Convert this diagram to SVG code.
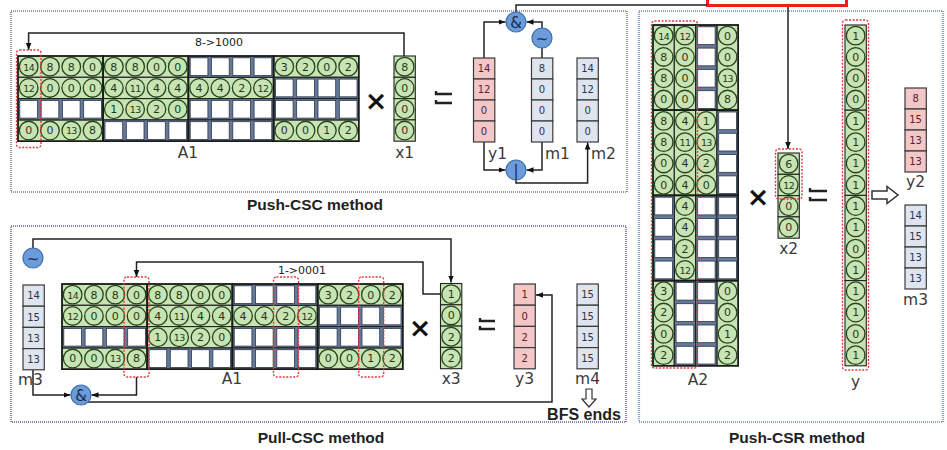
<svg xmlns="http://www.w3.org/2000/svg" xmlns:xlink="http://www.w3.org/1999/xlink" width="947" height="450" viewBox="0 0 947 450">
<style>
 .g{fill:#c9e4b4;stroke:#222;stroke-width:1.1}
 .o{fill:none;stroke:#24461c;stroke-width:1.3}
 .n{font-family:"DejaVu Sans",sans-serif;font-size:11px;fill:#1e3a16;text-anchor:middle;dominant-baseline:central}
 .n2{font-size:9.5px;letter-spacing:-0.7px}
 .wb{fill:#66799a;stroke:#222;stroke-width:1.1}
 .wc{fill:#fff;stroke:#2e3946;stroke-width:.8}
 .blk{fill:none;stroke:#1a1a1a;stroke-width:1.6}
 .pk{fill:#f3c6c8;stroke:#3a3a3a;stroke-width:1.2}
 .bl{fill:#dfe5ef;stroke:#3a3a3a;stroke-width:1.2}
 .vt{font-family:"DejaVu Sans",sans-serif;font-size:10px;text-anchor:middle;dominant-baseline:central}
 .pt{fill:#5b2323}
 .bt{fill:#2c3450}
 .lab{font-family:"DejaVu Sans",sans-serif;font-size:15.5px;fill:#3a3a3a}
 .mid{text-anchor:middle}
 .ttl{font-family:"Liberation Sans",Arial,sans-serif;font-weight:bold;font-size:15.5px;fill:#222;text-anchor:middle}
 .hl{fill:none;stroke:#e23a3a;stroke-width:1.4;stroke-dasharray:2 1.5}
 .op{fill:#6b9bd8;stroke:#3f6fae;stroke-width:1.2}
 .opt{font-family:"DejaVu Sans",sans-serif;font-size:15px;fill:#1c2a50;text-anchor:middle;dominant-baseline:central}
 .wire{fill:none;stroke:#222;stroke-width:1.5}
 .arw{marker-end:url(#ah)}
 .eq{fill:none;stroke:#222;stroke-width:2.4}
 .mul{font-family:"DejaVu Sans",sans-serif;font-size:27px;font-weight:bold;fill:#111;text-anchor:middle;dominant-baseline:central}
 .sm{font-family:"DejaVu Sans",sans-serif;font-size:11px;fill:#222;text-anchor:middle}
 .pane{fill:none;stroke-width:2.2;stroke-dasharray:1 1}
</style>
<defs>
 <marker id="ah" viewBox="0 0 10 10" refX="10" refY="5" markerWidth="7" markerHeight="7" markerUnits="userSpaceOnUse" orient="auto">
  <path d="M0,1 L10,5 L0,9 z" fill="#111"/>
 </marker>
 <circle id="o" class="o" r="9.3"/>
 <!-- empty 4-cell strips, horizontal and vertical -->
 <g id="wr">
  <rect class="wb" x="0" y="0" width="85.2" height="21.3"/>
  <rect class="wc" x="1.8" y="1.8" width="17.7" height="17.7"/>
  <rect class="wc" x="23.1" y="1.8" width="17.7" height="17.7"/>
  <rect class="wc" x="44.4" y="1.8" width="17.7" height="17.7"/>
  <rect class="wc" x="65.7" y="1.8" width="17.7" height="17.7"/>
 </g>
 <g id="wcg">
  <rect class="wb" x="0" y="0" width="21.3" height="85.2"/>
  <rect class="wc" x="1.8" y="1.8" width="17.7" height="17.7"/>
  <rect class="wc" x="1.8" y="23.1" width="17.7" height="17.7"/>
  <rect class="wc" x="1.8" y="44.4" width="17.7" height="17.7"/>
  <rect class="wc" x="1.8" y="65.7" width="17.7" height="17.7"/>
 </g>
 <!-- matrix A1 in CSC blocks -->
 <g id="a1">
  <rect class="g" x="0" y="0" width="85.2" height="21.3"/>
  <rect class="g" x="0" y="21.3" width="85.2" height="21.3"/>
  <rect class="g" x="0" y="63.9" width="85.2" height="21.3"/>
  <rect class="g" x="85.2" y="0" width="85.2" height="21.3"/>
  <rect class="g" x="85.2" y="21.3" width="85.2" height="21.3"/>
  <rect class="g" x="85.2" y="42.6" width="85.2" height="21.3"/>
  <rect class="g" x="170.4" y="21.3" width="85.2" height="21.3"/>
  <rect class="g" x="255.6" y="0" width="85.2" height="21.3"/>
  <rect class="g" x="255.6" y="63.9" width="85.2" height="21.3"/>
  <use href="#wr" x="0" y="42.6"/>
  <use href="#wr" x="85.2" y="63.9"/>
  <use href="#wr" x="170.4" y="0"/>
  <use href="#wr" x="170.4" y="42.6"/>
  <use href="#wr" x="170.4" y="63.9"/>
  <use href="#wr" x="255.6" y="21.3"/>
  <use href="#wr" x="255.6" y="42.6"/>
  <rect class="blk" x="0" y="0" width="85.2" height="85.2"/>
  <rect class="blk" x="85.2" y="0" width="85.2" height="85.2"/>
  <rect class="blk" x="170.4" y="0" width="85.2" height="85.2"/>
  <rect class="blk" x="255.6" y="0" width="85.2" height="85.2"/>
  <!-- row 0 -->
  <use href="#o" x="10.65" y="10.65"/><text class="n n2" x="10.65" y="11">14</text>
  <use href="#o" x="31.95" y="10.65"/><text class="n" x="31.95" y="11">8</text>
  <use href="#o" x="53.25" y="10.65"/><text class="n" x="53.25" y="11">8</text>
  <use href="#o" x="74.55" y="10.65"/><text class="n" x="74.55" y="11">0</text>
  <use href="#o" x="95.85" y="10.65"/><text class="n" x="95.85" y="11">8</text>
  <use href="#o" x="117.15" y="10.65"/><text class="n" x="117.15" y="11">8</text>
  <use href="#o" x="138.45" y="10.65"/><text class="n" x="138.45" y="11">0</text>
  <use href="#o" x="159.75" y="10.65"/><text class="n" x="159.75" y="11">0</text>
  <use href="#o" x="266.25" y="10.65"/><text class="n" x="266.25" y="11">3</text>
  <use href="#o" x="287.55" y="10.65"/><text class="n" x="287.55" y="11">2</text>
  <use href="#o" x="308.85" y="10.65"/><text class="n" x="308.85" y="11">0</text>
  <use href="#o" x="330.15" y="10.65"/><text class="n" x="330.15" y="11">2</text>
  <!-- row 1 -->
  <use href="#o" x="10.65" y="31.95"/><text class="n n2" x="10.65" y="32.3">12</text>
  <use href="#o" x="31.95" y="31.95"/><text class="n" x="31.95" y="32.3">0</text>
  <use href="#o" x="53.25" y="31.95"/><text class="n" x="53.25" y="32.3">0</text>
  <use href="#o" x="74.55" y="31.95"/><text class="n" x="74.55" y="32.3">0</text>
  <use href="#o" x="95.85" y="31.95"/><text class="n" x="95.85" y="32.3">4</text>
  <use href="#o" x="117.15" y="31.95"/><text class="n n2" x="117.15" y="32.3">11</text>
  <use href="#o" x="138.45" y="31.95"/><text class="n" x="138.45" y="32.3">4</text>
  <use href="#o" x="159.75" y="31.95"/><text class="n" x="159.75" y="32.3">4</text>
  <use href="#o" x="181.05" y="31.95"/><text class="n" x="181.05" y="32.3">4</text>
  <use href="#o" x="202.35" y="31.95"/><text class="n" x="202.35" y="32.3">4</text>
  <use href="#o" x="223.65" y="31.95"/><text class="n" x="223.65" y="32.3">2</text>
  <use href="#o" x="244.95" y="31.95"/><text class="n n2" x="244.95" y="32.3">12</text>
  <!-- row 2 -->
  <use href="#o" x="95.85" y="53.25"/><text class="n" x="95.85" y="53.6">1</text>
  <use href="#o" x="117.15" y="53.25"/><text class="n n2" x="117.15" y="53.6">13</text>
  <use href="#o" x="138.45" y="53.25"/><text class="n" x="138.45" y="53.6">2</text>
  <use href="#o" x="159.75" y="53.25"/><text class="n" x="159.75" y="53.6">0</text>
  <!-- row 3 -->
  <use href="#o" x="10.65" y="74.55"/><text class="n" x="10.65" y="74.9">0</text>
  <use href="#o" x="31.95" y="74.55"/><text class="n" x="31.95" y="74.9">0</text>
  <use href="#o" x="53.25" y="74.55"/><text class="n n2" x="53.25" y="74.9">13</text>
  <use href="#o" x="74.55" y="74.55"/><text class="n" x="74.55" y="74.9">8</text>
  <use href="#o" x="266.25" y="74.55"/><text class="n" x="266.25" y="74.9">0</text>
  <use href="#o" x="287.55" y="74.55"/><text class="n" x="287.55" y="74.9">0</text>
  <use href="#o" x="308.85" y="74.55"/><text class="n" x="308.85" y="74.9">1</text>
  <use href="#o" x="330.15" y="74.55"/><text class="n" x="330.15" y="74.9">2</text>
 </g>
</defs>

<rect width="947" height="450" fill="#fff"/>

<!-- panel frames -->
<g id="frames">
 <rect class="pane" x="11" y="11" width="616" height="181" stroke="#9c9c9c"/>
 <rect class="pane" x="11" y="226" width="615" height="196" stroke="#8d84b4"/>
 <rect class="pane" x="639" y="11" width="304" height="411" stroke="#86a4cc"/>
 <rect x="707.5" y="-10" width="139" height="15.5" fill="#fff" stroke="#f01c1c" stroke-width="3"/>
</g>

<!-- connectors -->
<g id="connectors">
 <path class="wire arw" d="M404,56 V33 H28.6 V50"/>
 <path class="wire arw" d="M484,58 V22 H505.5"/>
 <path class="wire" d="M542,58 V47"/>
 <path class="wire arw" d="M542,29 V22 H526.5"/>
 <path class="wire" d="M516,13 V5 H707"/>
 <path class="wire arw" d="M484,141 V170 H505.5"/>
 <path class="wire arw" d="M542,141 V170 H526.5"/>
 <path class="wire arw" d="M516,179 V183 H587.6 V142.5"/>
 <path class="wire arw" d="M788,7 V149"/>
 <path class="wire arw" d="M33,249 V239 H451 V282.5"/>
 <path class="wire arw" d="M440.5,294 H423 V262 H136.5 V277"/>
 <path class="wire arw" d="M33,370 V395 H70.5"/>
 <path class="wire arw" d="M136.5,377 V395 H91.5"/>
 <path class="wire arw" d="M81,402 H552 V295 H536"/>
</g>

<!-- Push-CSC -->
<g id="A1-push">
 <use href="#a1" x="18" y="56"/>
 <rect class="hl" x="16.5" y="50" width="24.5" height="97.5" rx="3"/>
 <text class="lab mid" x="188" y="158">A1</text>
 <text class="sm" x="219" y="46">8-&gt;1000</text>
</g>
<text class="mul" x="376" y="100">×</text>
<g id="x1">
 <rect class="g" x="394" y="56" width="21.3" height="21.3"/>
 <rect class="g" x="394" y="77.3" width="21.3" height="21.3"/>
 <rect class="g" x="394" y="98.6" width="21.3" height="21.3"/>
 <rect class="g" x="394" y="119.9" width="21.3" height="21.3"/>
 <use href="#o" x="404.65" y="66.65"/><text class="n" x="404.65" y="67">8</text>
 <use href="#o" x="404.65" y="87.95"/><text class="n" x="404.65" y="88.3">0</text>
 <use href="#o" x="404.65" y="109.25"/><text class="n" x="404.65" y="109.6">0</text>
 <use href="#o" x="404.65" y="130.55"/><text class="n" x="404.65" y="130.9">0</text>
 <text class="lab mid" x="404.65" y="158">x1</text>
</g>
<path class="eq" d="M436,91 V94 H452 M436,100 V103 H452"/>
<g id="y1">
 <rect class="pk" x="473.5" y="58" width="21.3" height="21"/>
 <rect class="pk" x="473.5" y="79" width="21.3" height="21"/>
 <rect class="pk" x="473.5" y="100" width="21.3" height="21"/>
 <rect class="pk" x="473.5" y="121" width="21.3" height="21"/>
 <text class="vt pt" x="484" y="68.8">14</text>
 <text class="vt pt" x="484" y="89.8">12</text>
 <text class="vt pt" x="484" y="110.8">0</text>
 <text class="vt pt" x="484" y="131.8">0</text>
 <text class="lab" x="488" y="159">y1</text>
</g>
<g id="m1">
 <rect class="bl" x="531.5" y="58" width="21.3" height="21"/>
 <rect class="bl" x="531.5" y="79" width="21.3" height="21"/>
 <rect class="bl" x="531.5" y="100" width="21.3" height="21"/>
 <rect class="bl" x="531.5" y="121" width="21.3" height="21"/>
 <text class="vt bt" x="542" y="68.8">8</text>
 <text class="vt bt" x="542" y="89.8">0</text>
 <text class="vt bt" x="542" y="110.8">0</text>
 <text class="vt bt" x="542" y="131.8">0</text>
 <text class="lab" x="545" y="159">m1</text>
</g>
<g id="m2">
 <rect class="bl" x="577" y="58" width="21.3" height="21"/>
 <rect class="bl" x="577" y="79" width="21.3" height="21"/>
 <rect class="bl" x="577" y="100" width="21.3" height="21"/>
 <rect class="bl" x="577" y="121" width="21.3" height="21"/>
 <text class="vt bt" x="587.6" y="68.8">14</text>
 <text class="vt bt" x="587.6" y="89.8">12</text>
 <text class="vt bt" x="587.6" y="110.8">0</text>
 <text class="vt bt" x="587.6" y="131.8">0</text>
 <text class="lab" x="591" y="159">m2</text>
</g>
<g id="op-and1"><circle class="op" cx="516" cy="22" r="10"/><text class="opt" x="516" y="22.5">&amp;</text></g>
<g id="op-not1"><circle class="op" cx="542" cy="38" r="10"/><text class="opt" x="542" y="38.5">~</text></g>
<g id="op-or1"><circle class="op" cx="516" cy="170" r="10"/><text class="opt" x="516" y="170.5">|</text></g>
<text class="ttl" x="315" y="210">Push-CSC method</text>

<!-- Pull-CSC -->
<g id="m3-pull">
 <rect class="bl" x="23" y="285" width="21.3" height="21.2"/>
 <rect class="bl" x="23" y="306.2" width="21.3" height="21.2"/>
 <rect class="bl" x="23" y="327.4" width="21.3" height="21.2"/>
 <rect class="bl" x="23" y="348.6" width="21.3" height="21.2"/>
 <text class="vt bt" x="33.6" y="295.8">14</text>
 <text class="vt bt" x="33.6" y="317">15</text>
 <text class="vt bt" x="33.6" y="338.2">13</text>
 <text class="vt bt" x="33.6" y="359.4">13</text>
 <text class="lab" x="18" y="385">m3</text>
</g>
<g id="op-not2"><circle class="op" cx="33" cy="258" r="10"/><text class="opt" x="33" y="258.5">~</text></g>
<g id="op-and2"><circle class="op" cx="81" cy="395" r="10"/><text class="opt" x="81" y="395.5">&amp;</text></g>
<g id="A1-pull">
 <use href="#a1" x="62" y="284"/>
 <rect class="hl" x="124" y="277" width="25" height="100" rx="3"/>
 <rect class="hl" x="273.5" y="277" width="25" height="100" rx="3"/>
 <rect class="hl" x="358.7" y="277" width="25" height="100" rx="3"/>
 <text class="lab mid" x="232" y="384">A1</text>
 <text class="sm" x="302" y="274">1-&gt;0001</text>
</g>
<text class="mul" x="420" y="327">×</text>
<g id="x3">
 <rect class="g" x="440.5" y="283.5" width="21.3" height="21.3"/>
 <rect class="g" x="440.5" y="304.8" width="21.3" height="21.3"/>
 <rect class="g" x="440.5" y="326.1" width="21.3" height="21.3"/>
 <rect class="g" x="440.5" y="347.4" width="21.3" height="21.3"/>
 <use href="#o" x="451.15" y="294.15"/><text class="n" x="451.15" y="294.5">1</text>
 <use href="#o" x="451.15" y="315.45"/><text class="n" x="451.15" y="315.8">0</text>
 <use href="#o" x="451.15" y="336.75"/><text class="n" x="451.15" y="337.1">2</text>
 <use href="#o" x="451.15" y="358.05"/><text class="n" x="451.15" y="358.4">2</text>
 <text class="lab mid" x="451.15" y="384">x3</text>
</g>
<path class="eq" d="M480,318 V321 H495 M480,326 V329 H495"/>
<g id="y3">
 <rect class="pk" x="514" y="284" width="21.3" height="21.2"/>
 <rect class="pk" x="514" y="305.2" width="21.3" height="21.2"/>
 <rect class="pk" x="514" y="326.4" width="21.3" height="21.2"/>
 <rect class="pk" x="514" y="347.6" width="21.3" height="21.2"/>
 <text class="vt pt" x="524.6" y="294.8">1</text>
 <text class="vt pt" x="524.6" y="316">0</text>
 <text class="vt pt" x="524.6" y="337.2">2</text>
 <text class="vt pt" x="524.6" y="358.4">2</text>
 <text class="lab mid" x="524.6" y="384">y3</text>
</g>
<g id="m4">
 <rect class="bl" x="577" y="284" width="21.3" height="21.2"/>
 <rect class="bl" x="577" y="305.2" width="21.3" height="21.2"/>
 <rect class="bl" x="577" y="326.4" width="21.3" height="21.2"/>
 <rect class="bl" x="577" y="347.6" width="21.3" height="21.2"/>
 <text class="vt bt" x="587.6" y="294.8">15</text>
 <text class="vt bt" x="587.6" y="316">15</text>
 <text class="vt bt" x="587.6" y="337.2">15</text>
 <text class="vt bt" x="587.6" y="358.4">15</text>
 <text class="lab mid" x="587.6" y="384">m4</text>
</g>
<polygon points="586,389 592,389 592,399 596,399 589,407 582,399 586,399" fill="#fff" stroke="#333" stroke-width="1.2"/>
<text class="ttl" x="584" y="420" style="font-size:16px">BFS ends</text>
<text class="ttl" x="321" y="443">Pull-CSC method</text>

<!-- Push-CSR -->
<g id="A2" transform="translate(653,25)">
 <rect class="g" x="0" y="0" width="21.3" height="85.2"/>
 <rect class="g" x="0" y="85.2" width="21.3" height="85.2"/>
 <rect class="g" x="0" y="255.6" width="21.3" height="85.2"/>
 <rect class="g" x="21.3" y="0" width="21.3" height="85.2"/>
 <rect class="g" x="21.3" y="85.2" width="21.3" height="85.2"/>
 <rect class="g" x="21.3" y="170.4" width="21.3" height="85.2"/>
 <rect class="g" x="42.6" y="85.2" width="21.3" height="85.2"/>
 <rect class="g" x="63.9" y="0" width="21.3" height="85.2"/>
 <rect class="g" x="63.9" y="255.6" width="21.3" height="85.2"/>
 <use href="#wcg" x="0" y="170.4"/>
 <use href="#wcg" x="21.3" y="255.6"/>
 <use href="#wcg" x="42.6" y="0"/>
 <use href="#wcg" x="42.6" y="170.4"/>
 <use href="#wcg" x="42.6" y="255.6"/>
 <use href="#wcg" x="63.9" y="85.2"/>
 <use href="#wcg" x="63.9" y="170.4"/>
 <rect class="blk" x="0" y="0" width="85.2" height="85.2"/>
 <rect class="blk" x="0" y="85.2" width="85.2" height="85.2"/>
 <rect class="blk" x="0" y="170.4" width="85.2" height="85.2"/>
 <rect class="blk" x="0" y="255.6" width="85.2" height="85.2"/>
 <!-- column 0 -->
 <use href="#o" x="10.65" y="10.65"/><text class="n n2" x="10.65" y="11">14</text>
 <use href="#o" x="10.65" y="31.95"/><text class="n" x="10.65" y="32.3">8</text>
 <use href="#o" x="10.65" y="53.25"/><text class="n" x="10.65" y="53.6">8</text>
 <use href="#o" x="10.65" y="74.55"/><text class="n" x="10.65" y="74.9">0</text>
 <use href="#o" x="10.65" y="95.85"/><text class="n" x="10.65" y="96.2">8</text>
 <use href="#o" x="10.65" y="117.15"/><text class="n" x="10.65" y="117.5">8</text>
 <use href="#o" x="10.65" y="138.45"/><text class="n" x="10.65" y="138.8">0</text>
 <use href="#o" x="10.65" y="159.75"/><text class="n" x="10.65" y="160.1">0</text>
 <use href="#o" x="10.65" y="266.25"/><text class="n" x="10.65" y="266.6">3</text>
 <use href="#o" x="10.65" y="287.55"/><text class="n" x="10.65" y="287.9">2</text>
 <use href="#o" x="10.65" y="308.85"/><text class="n" x="10.65" y="309.2">0</text>
 <use href="#o" x="10.65" y="330.15"/><text class="n" x="10.65" y="330.5">2</text>
 <!-- column 1 -->
 <use href="#o" x="31.95" y="10.65"/><text class="n n2" x="31.95" y="11">12</text>
 <use href="#o" x="31.95" y="31.95"/><text class="n" x="31.95" y="32.3">0</text>
 <use href="#o" x="31.95" y="53.25"/><text class="n" x="31.95" y="53.6">0</text>
 <use href="#o" x="31.95" y="74.55"/><text class="n" x="31.95" y="74.9">0</text>
 <use href="#o" x="31.95" y="95.85"/><text class="n" x="31.95" y="96.2">4</text>
 <use href="#o" x="31.95" y="117.15"/><text class="n n2" x="31.95" y="117.5">11</text>
 <use href="#o" x="31.95" y="138.45"/><text class="n" x="31.95" y="138.8">4</text>
 <use href="#o" x="31.95" y="159.75"/><text class="n" x="31.95" y="160.1">4</text>
 <use href="#o" x="31.95" y="181.05"/><text class="n" x="31.95" y="181.4">4</text>
 <use href="#o" x="31.95" y="202.35"/><text class="n" x="31.95" y="202.7">4</text>
 <use href="#o" x="31.95" y="223.65"/><text class="n" x="31.95" y="224">2</text>
 <use href="#o" x="31.95" y="244.95"/><text class="n n2" x="31.95" y="245.3">12</text>
 <!-- column 2 -->
 <use href="#o" x="53.25" y="95.85"/><text class="n" x="53.25" y="96.2">1</text>
 <use href="#o" x="53.25" y="117.15"/><text class="n n2" x="53.25" y="117.5">13</text>
 <use href="#o" x="53.25" y="138.45"/><text class="n" x="53.25" y="138.8">2</text>
 <use href="#o" x="53.25" y="159.75"/><text class="n" x="53.25" y="160.1">0</text>
 <!-- column 3 -->
 <use href="#o" x="74.55" y="10.65"/><text class="n" x="74.55" y="11">0</text>
 <use href="#o" x="74.55" y="31.95"/><text class="n" x="74.55" y="32.3">0</text>
 <use href="#o" x="74.55" y="53.25"/><text class="n n2" x="74.55" y="53.6">13</text>
 <use href="#o" x="74.55" y="74.55"/><text class="n" x="74.55" y="74.9">8</text>
 <use href="#o" x="74.55" y="266.25"/><text class="n" x="74.55" y="266.6">0</text>
 <use href="#o" x="74.55" y="287.55"/><text class="n" x="74.55" y="287.9">0</text>
 <use href="#o" x="74.55" y="308.85"/><text class="n" x="74.55" y="309.2">1</text>
 <use href="#o" x="74.55" y="330.15"/><text class="n" x="74.55" y="330.5">2</text>
</g>
<rect class="hl" x="651.5" y="21" width="46" height="347" rx="3"/>
<text class="lab mid" x="698" y="385">A2</text>
<text class="mul" x="758" y="196">×</text>
<g id="x2">
 <rect class="g" x="778" y="153" width="21.3" height="21.3"/>
 <rect class="g" x="778" y="174.3" width="21.3" height="21.3"/>
 <rect class="g" x="778" y="195.6" width="21.3" height="21.3"/>
 <rect class="g" x="778" y="216.9" width="21.3" height="21.3"/>
 <use href="#o" x="788.65" y="163.65"/><text class="n" x="788.65" y="164">6</text>
 <use href="#o" x="788.65" y="184.95"/><text class="n n2" x="788.65" y="185.3">12</text>
 <use href="#o" x="788.65" y="206.25"/><text class="n" x="788.65" y="206.6">0</text>
 <use href="#o" x="788.65" y="227.55"/><text class="n" x="788.65" y="227.9">0</text>
 <rect class="hl" x="775.5" y="149" width="26.5" height="50" rx="3"/>
 <text class="lab mid" x="788.65" y="254">x2</text>
</g>
<path class="eq" d="M810,188 V191 H827 M810,197 V200 H827"/>
<g id="y" transform="translate(845,25)">
 <rect class="g" x="0" y="0" width="21.3" height="85.2"/>
 <rect class="g" x="0" y="85.2" width="21.3" height="85.2"/>
 <rect class="g" x="0" y="170.4" width="21.3" height="85.2"/>
 <rect class="g" x="0" y="255.6" width="21.3" height="85.2"/>
 <use href="#o" x="10.65" y="10.65"/><text class="n" x="10.65" y="11">1</text>
 <use href="#o" x="10.65" y="31.95"/><text class="n" x="10.65" y="32.3">0</text>
 <use href="#o" x="10.65" y="53.25"/><text class="n" x="10.65" y="53.6">0</text>
 <use href="#o" x="10.65" y="74.55"/><text class="n" x="10.65" y="74.9">0</text>
 <use href="#o" x="10.65" y="95.85"/><text class="n" x="10.65" y="96.2">1</text>
 <use href="#o" x="10.65" y="117.15"/><text class="n" x="10.65" y="117.5">1</text>
 <use href="#o" x="10.65" y="138.45"/><text class="n" x="10.65" y="138.8">1</text>
 <use href="#o" x="10.65" y="159.75"/><text class="n" x="10.65" y="160.1">1</text>
 <use href="#o" x="10.65" y="181.05"/><text class="n" x="10.65" y="181.4">1</text>
 <use href="#o" x="10.65" y="202.35"/><text class="n" x="10.65" y="202.7">1</text>
 <use href="#o" x="10.65" y="223.65"/><text class="n" x="10.65" y="224">0</text>
 <use href="#o" x="10.65" y="244.95"/><text class="n" x="10.65" y="245.3">1</text>
 <use href="#o" x="10.65" y="266.25"/><text class="n" x="10.65" y="266.6">1</text>
 <use href="#o" x="10.65" y="287.55"/><text class="n" x="10.65" y="287.9">1</text>
 <use href="#o" x="10.65" y="308.85"/><text class="n" x="10.65" y="309.2">0</text>
 <use href="#o" x="10.65" y="330.15"/><text class="n" x="10.65" y="330.5">1</text>
</g>
<rect class="hl" x="842.5" y="20" width="26" height="350" rx="3"/>
<text class="lab mid" x="855.6" y="387">y</text>
<polygon points="872,191 887,191 887,186.5 898,195 887,203.5 887,199 872,199" fill="#fff" stroke="#333" stroke-width="1.5"/>
<g id="y2">
 <rect class="pk" x="905" y="88" width="21.3" height="21"/>
 <rect class="pk" x="905" y="109" width="21.3" height="21"/>
 <rect class="pk" x="905" y="130" width="21.3" height="21"/>
 <rect class="pk" x="905" y="151" width="21.3" height="21"/>
 <text class="vt pt" x="915.6" y="98.8">8</text>
 <text class="vt pt" x="915.6" y="119.8">15</text>
 <text class="vt pt" x="915.6" y="140.8">13</text>
 <text class="vt pt" x="915.6" y="161.8">13</text>
 <text class="lab mid" x="915.6" y="187">y2</text>
</g>
<g id="m3-csr">
 <rect class="bl" x="905" y="205" width="21.3" height="21"/>
 <rect class="bl" x="905" y="226" width="21.3" height="21"/>
 <rect class="bl" x="905" y="247" width="21.3" height="21"/>
 <rect class="bl" x="905" y="268" width="21.3" height="21"/>
 <text class="vt bt" x="915.6" y="215.8">14</text>
 <text class="vt bt" x="915.6" y="236.8">15</text>
 <text class="vt bt" x="915.6" y="257.8">13</text>
 <text class="vt bt" x="915.6" y="278.8">13</text>
 <text class="lab mid" x="915.6" y="305">m3</text>
</g>
<text class="ttl" x="797" y="443">Push-CSR method</text>
</svg>
